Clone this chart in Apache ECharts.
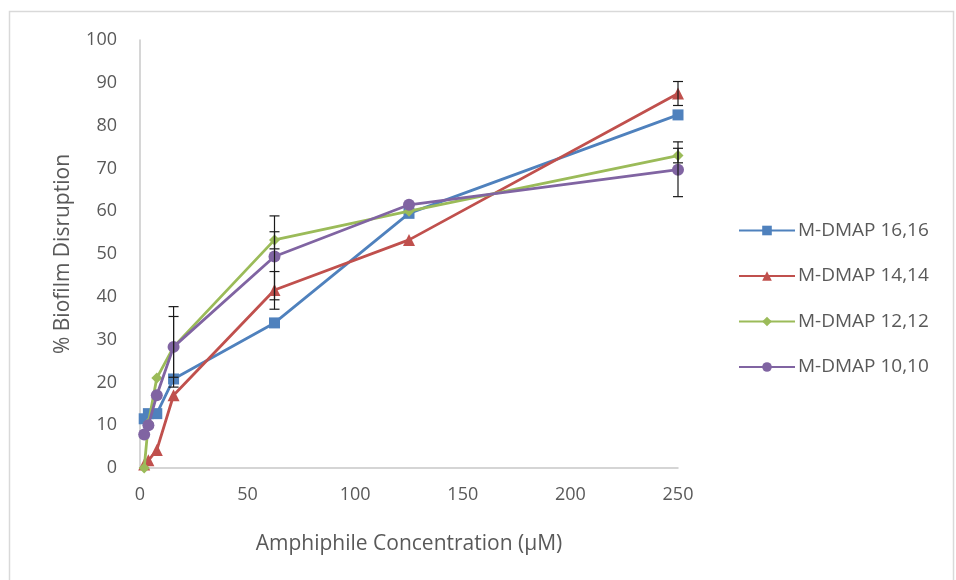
<!DOCTYPE html>
<html>
<head>
<meta charset="utf-8">
<script src="https://cdn.jsdelivr.net/npm/echarts@6/dist/echarts.min.js"></script>
<style>
html, body { margin: 0; padding: 0; background: #fff; }
#chart { width: 956px; height: 580px; }
</style>
</head>
<body>
<div id="chart"></div>
<script>
// Amphiphile concentrations (µM)
const concentrations = [1.95, 3.9, 7.8, 15.6, 62.5, 125, 250];

const seriesNames = ['M-DMAP 16,16', 'M-DMAP 14,14', 'M-DMAP 12,12', 'M-DMAP 10,10'];

// % biofilm disruption per amphiphile
const dmap16 = [11.5, 12.7, 12.7, 20.8, 33.9, 59.5, 82.5];
const dmap14 = [0.8, 1.8, 4.2, 17.0, 41.6, 53.3, 87.5];
const dmap12 = [0.0, 10.5, 21.0, 28.3, 53.3, 60.0, 73.0];
const dmap10 = [7.8, 10.0, 17.0, 28.3, 49.4, 61.5, 69.7];

// error bar extents (lower, upper); zero width means no bar drawn
const errLow16 = [0, 0, 0, 0, 0, 0, 0];
const errHigh16 = [0, 0, 0, 0, 0, 0, 0];
const errLow14 = [0, 0, 0, 0, 4.5, 0, 2.8];
const errHigh14 = [0, 0, 0, 0, 4.3, 0, 2.8];
const errLow12 = [0, 0, 0, 7.1, 2.1, 0, 1.7];
const errHigh12 = [0, 0, 0, 7.1, 5.6, 0, 1.7];
const errLow10 = [0, 0, 0, 9.4, 10.1, 0, 6.3];
const errHigh10 = [0, 0, 0, 9.4, 5.8, 0, 6.5];

const yTicks = [0, 10, 20, 30, 40, 50, 60, 70, 80, 90, 100];
const xTicks = [0, 50, 100, 150, 200, 250];

const colors = ['#4F81BD', '#C0504D', '#9BBB59', '#8064A2'];
const symbols = ['rect', 'triangle', 'diamond', 'circle'];
const symbolSizes = [11, 12, 11, 12];
const values = [dmap16, dmap14, dmap12, dmap10];
const errLows = [errLow16, errLow14, errLow12, errLow10];
const errHighs = [errHigh16, errHigh14, errHigh12, errHigh10];

const font = '"Open Sans", Lato, sans-serif';
const textColor = '#595959';

function pairs(ys) {
  return concentrations.map((x, i) => [x, ys[i]]);
}

function errorData(ys, lows, highs) {
  return concentrations.map((x, i) => [x, ys[i] - lows[i], ys[i] + highs[i]]);
}

function renderErrorBar(params, api) {
  const x = api.value(0);
  const yLo = api.value(1);
  const yHi = api.value(2);
  if (yHi - yLo <= 0) {
    return null;
  }
  const lo = api.coord([x, yLo]);
  const hi = api.coord([x, yHi]);
  const half = 5;
  const style = { stroke: '#1a1a1a', lineWidth: 1.2 };
  return {
    type: 'group',
    children: [
      { type: 'line', shape: { x1: lo[0], y1: lo[1], x2: hi[0], y2: hi[1] }, style },
      { type: 'line', shape: { x1: hi[0] - half, y1: hi[1], x2: hi[0] + half, y2: hi[1] }, style },
      { type: 'line', shape: { x1: lo[0] - half, y1: lo[1], x2: lo[0] + half, y2: lo[1] }, style }
    ]
  };
}

const series = [];
seriesNames.forEach((name, i) => {
  series.push({
    name: name,
    type: 'line',
    data: pairs(values[i]),
    symbol: symbols[i],
    symbolSize: symbolSizes[i],
    showAllSymbol: true,
    lineStyle: { color: colors[i], width: 2.8 },
    itemStyle: { color: colors[i] },
    z: 3 + i * 0.1,
    animation: false
  });
});
seriesNames.forEach((name, i) => {
  series.push({
    name: name + ' error',
    type: 'custom',
    renderItem: renderErrorBar,
    data: errorData(values[i], errLows[i], errHighs[i]),
    encode: { x: 0, y: [1, 2] },
    z: 5,
    silent: true,
    animation: false
  });
});

const chart = echarts.init(document.getElementById('chart'), null, { renderer: 'canvas' });
chart.setOption({
  backgroundColor: '#ffffff',
  animation: false,
  color: colors,
  textStyle: { fontFamily: font },
  grid: { left: 140, right: 278, top: 40, bottom: 112, containLabel: false },
  xAxis: {
    type: 'value',
    min: xTicks[0],
    max: xTicks[xTicks.length - 1],
    interval: 50,
    name: 'Amphiphile Concentration (µM)',
    nameLocation: 'middle',
    nameGap: 66,
    nameTextStyle: { color: textColor, fontSize: 21, fontFamily: font },
    axisLine: { show: true, lineStyle: { color: '#c8c8c8', width: 1.5 } },
    axisTick: { show: false },
    splitLine: { show: false },
    axisLabel: { color: textColor, fontSize: 18, margin: 18, fontFamily: font }
  },
  yAxis: {
    type: 'value',
    min: yTicks[0],
    max: yTicks[yTicks.length - 1],
    interval: 10,
    name: '% Biofilm Disruption',
    nameLocation: 'middle',
    nameGap: 66,
    nameRotate: 90,
    nameTextStyle: { color: textColor, fontSize: 21, fontFamily: font },
    axisLine: { show: true, lineStyle: { color: '#c8c8c8', width: 1.5 } },
    axisTick: { show: false },
    splitLine: { show: false },
    axisLabel: { color: textColor, fontSize: 18, margin: 23, fontFamily: font }
  },
  legend: {
    data: seriesNames,
    orient: 'vertical',
    left: 733,
    top: 216,
    itemWidth: 56,
    itemHeight: 12,
    itemGap: 26.5,
    textStyle: { color: textColor, fontSize: 19, fontFamily: font, padding: [0, 0, 0, -2] }
  },
  graphic: [
    {
      type: 'rect',
      shape: { x: 9.5, y: 11.5, width: 944, height: 600 },
      style: { fill: 'none', stroke: '#d9d9d9', lineWidth: 1.5 },
      silent: true,
      z: -1
    }
  ],
  series: series
});
</script>
</body>
</html>
